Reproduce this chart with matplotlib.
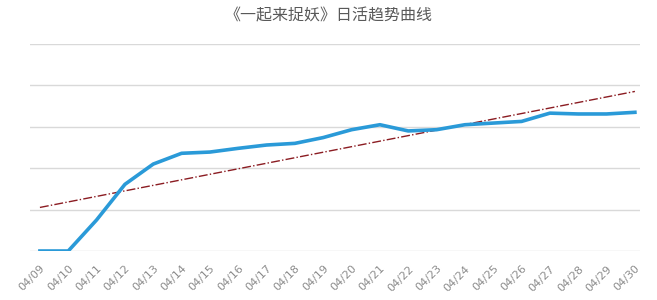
import numpy as np
import matplotlib.pyplot as plt

plt.rcParams['font.family'] = ['Noto Sans CJK SC', 'DejaVu Sans']

# daily active trend (units = gridlines)
dates = ['04/09', '04/10', '04/11', '04/12', '04/13', '04/14', '04/15', '04/16',
         '04/17', '04/18', '04/19', '04/20', '04/21', '04/22', '04/23', '04/24',
         '04/25', '04/26', '04/27', '04/28', '04/29', '04/30']
dau = [0.0, 0.0, 0.75, 1.61, 2.10, 2.36, 2.39, 2.48, 2.56, 2.60, 2.74,
       2.93, 3.05, 2.90, 2.93, 3.05, 3.09, 3.13, 3.33, 3.31, 3.31, 3.35]
y_ticks = [0, 1, 2, 3, 4, 5]

x = np.arange(len(dates))
coef = np.polyfit(x, dau, 1)
trend = np.polyval(coef, x)

fig = plt.figure(figsize=(6.57, 3.0), dpi=100)
ax = fig.add_axes([30 / 657, 1 - 251 / 300, 610 / 657, 207 / 300])

ax.plot(x, dau, color='#2a9ad8', linewidth=2.6, solid_joinstyle='round', zorder=3)
ax.plot(x, trend, color='#8b1c22', linewidth=1.0, linestyle='-.', zorder=2)

ax.set_ylim(0, 5)
ax.set_xlim(-0.35, 21.18)
ax.set_yticks(y_ticks)
ax.set_yticklabels([])
ax.grid(axis='y', color='#d9d9d9', linewidth=1.0)
ax.set_axisbelow(True)
ax.tick_params(length=0)
for s in ax.spines.values():
    s.set_visible(False)

ax.set_xticks(x)
ax.set_xticklabels(dates, rotation=45, ha='right', rotation_mode='anchor',
                   fontsize=8, color='#8c8c8c', family='DejaVu Sans')
ax.tick_params(axis='x', pad=9)

fig.text(0.5, 1 - 16 / 300, '《一起来捉妖》日活趋势曲线', ha='center', va='center',
         fontsize=11.5, color='#595959')

fig.savefig('out.png', dpi=100, facecolor='white')
